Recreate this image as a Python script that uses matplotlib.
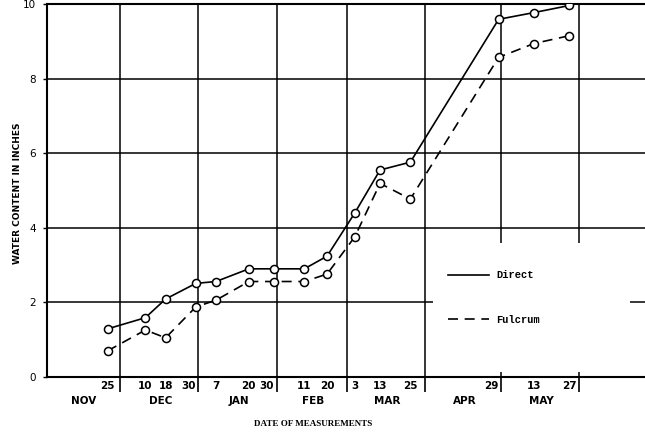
import matplotlib
matplotlib.use('Agg')
import matplotlib.pyplot as plt
import pandas as pd
from matplotlib.patches import Rectangle

# measurement dates and water content (inches)
dates = pd.to_datetime([
    '1966-11-25', '1966-12-10', '1966-12-18', '1966-12-30', '1967-01-07',
    '1967-01-20', '1967-01-30', '1967-02-11', '1967-02-20', '1967-03-03',
    '1967-03-13', '1967-03-25', '1967-04-29', '1967-05-13', '1967-05-27'])
direct = [1.29, 1.59, 2.09, 2.51, 2.56, 2.90, 2.90, 2.90, 3.24, 4.40,
          5.55, 5.76, 9.59, 9.77, 9.96]
fulcrum = [0.70, 1.26, 1.05, 1.88, 2.06, 2.56, 2.56, 2.56, 2.76, 3.76,
           5.19, 4.77, 8.57, 8.94, 9.15]
months = ['NOV', 'DEC', 'JAN', 'FEB', 'MAR', 'APR', 'MAY']
month_starts = pd.date_range('1966-11-01', periods=7, freq='MS')
yticks = [0, 2, 4, 6, 8, 10]

fig = plt.figure(figsize=(6.45, 4.38), dpi=100)
ax = fig.add_axes([47 / 645, 61 / 438, 598 / 645, 373 / 438])

ax.plot(dates, direct, '-o', color='black', lw=1.2, ms=5.8,
        mfc='white', mec='black', mew=1.1, label='Direct', zorder=3)
ax.plot(dates, fulcrum, '--o', color='black', lw=1.2, ms=5.8,
        mfc='white', mec='black', mew=1.1, dashes=(6, 4),
        label='Fulcrum', zorder=3)

ax.set_xlim(pd.Timestamp('1966-11-01'), pd.Timestamp('1967-06-26'))
ax.set_ylim(0, 10)

# grid at month ends, day numbers at measurement dates
month_ends = month_starts + pd.offsets.MonthEnd(0)
ax.set_xticks(month_ends)
ax.set_xticklabels([])
ax.set_xticks(dates, minor=True)
ax.set_xticklabels([str(d.day) for d in dates], minor=True,
                   fontsize=7.5, fontweight='bold')
# labels sitting just left of a month line are typed flush against it
for lab, d in zip(ax.get_xticklabels(minor=True), dates):
    if (d + pd.offsets.MonthEnd(0) - d).days <= 1:
        lab.set_horizontalalignment('right')
ax.tick_params(axis='x', which='major', length=11, width=1.2,
               direction='out', color='black')
ax.tick_params(axis='x', which='minor', length=0, pad=3)

ax.set_yticks(yticks)
ax.set_yticklabels([str(v) for v in yticks], fontsize=7.5)
ax.tick_params(axis='y', length=3, width=1, pad=5)

ax.grid(True, which='major', color='black', lw=1.1)
ax.spines['right'].set_visible(False)
for s in ['left', 'bottom', 'top']:
    ax.spines[s].set_linewidth(1.5)

xtrans = ax.get_xaxis_transform()
for m, start in zip(months, month_starts):
    mid = start + (start + pd.offsets.MonthEnd(0) - start) / 2
    ax.text(mid, -0.064, m, transform=xtrans, ha='center', va='center',
            fontsize=7.5, fontweight='bold')

ax.text(0.445, -0.126, 'DATE OF MEASUREMENTS', transform=ax.transAxes,
        ha='center', va='center', fontsize=6.5, fontweight='bold',
        family='Liberation Serif')
ax.text(-0.0485, 0.493, 'WATER CONTENT IN INCHES', transform=ax.transAxes,
        ha='center', va='center', rotation=90, fontsize=6.5,
        fontweight='bold')

# blank area behind the legend
ax.add_patch(Rectangle((0.6455, 0.013), 0.33, 0.346, transform=ax.transAxes,
                       facecolor='white', edgecolor='none', zorder=2))

leg = ax.legend(loc='center left', bbox_to_anchor=(0.6706, 0.2131),
                frameon=False, borderpad=0, borderaxespad=0,
                handlelength=3.9, handletextpad=0.7, labelspacing=3.3,
                prop={'family': 'Liberation Mono', 'weight': 'bold', 'size': 7.5})
for h in leg.get_lines():
    h.set_marker('')
leg.set_zorder(4)

fig.savefig('out.png', dpi=100)
